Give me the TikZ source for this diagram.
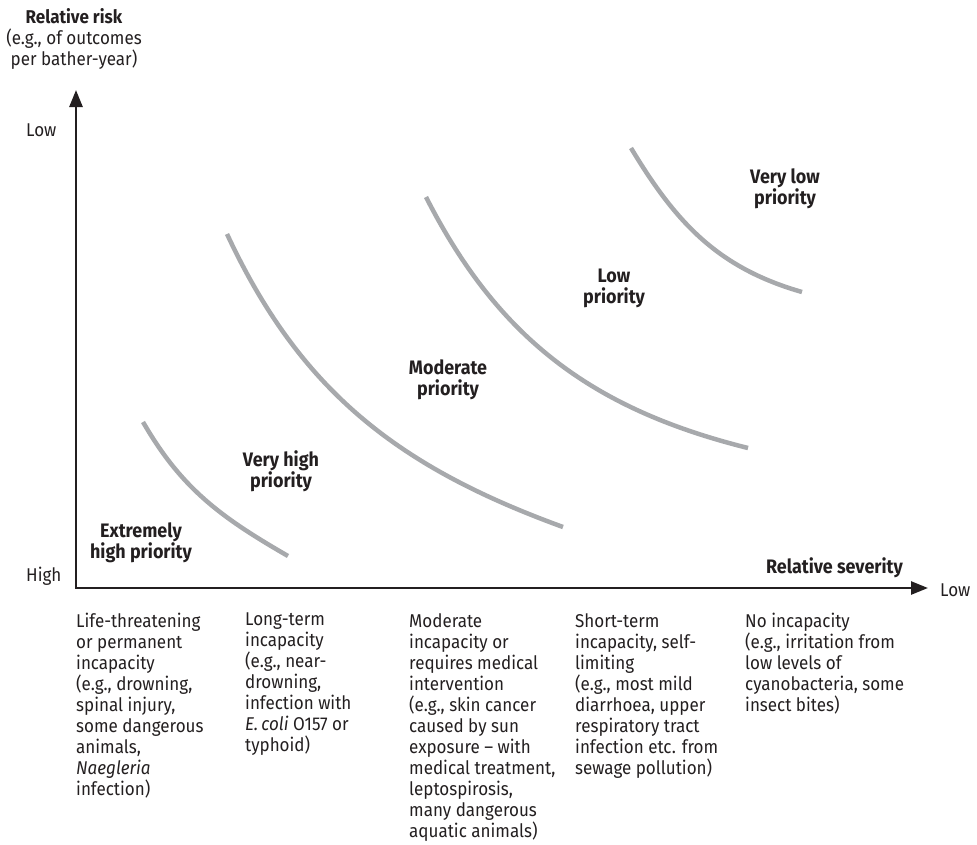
\documentclass[tikz,border=0pt]{standalone}
\usepackage{fontspec}
\setmainfont{Fira Sans}[FakeStretch=0.92]
\usepackage{xcolor}
\usetikzlibrary{arrows.meta,positioning}
\definecolor{ink}{HTML}{231F20}
\definecolor{bandgray}{HTML}{A7A9AC}

\begin{document}
\begin{tikzpicture}[
        x=1pt, y=1pt,
        every node/.style={text=ink, inner sep=0pt},
        txt/.style={font=\fontsize{18.5}{21}\selectfont},
        effect/.style={txt, align=left, anchor=north west},
        zone/.style={font=\fontsize{19.5}{21}\selectfont\bfseries, align=center},
        axis/.style={{Triangle[length=17pt,width=13pt]}-{Triangle[length=17pt,width=13pt]}, line width=2.6pt, draw=ink},
        band/.style={line width=4.5pt, draw=bandgray}
    ]
        \useasboundingbox (0,0) rectangle (977,-844);

        % axes
        \coordinate (origin) at (76,-588);
        \coordinate (ytip) at (76,-90);
        \coordinate (xtip) at (928,-588);
        \draw[axis] (ytip) -- (origin) -- (xtip);

        \node[txt, align=center, anchor=north] (ylabel) at (74,-8)
            {\textbf{Relative risk}\\(e.g., of outcomes\\per bather-year)};
        \node[txt, anchor=west] (ylow) at (26,-130) {Low};
        \node[txt, anchor=west] (yhigh) at (26,-576) {High};
        \node[txt, anchor=west] (xlow) at (940,-590) {Low};
        \node[zone, anchor=east] (xlabel) at (903,-568) {Relative severity};

        % priority bands
        \coordinate (b1s) at (143,-422); \coordinate (b1e) at (288,-556);
        \coordinate (b2s) at (227,-234); \coordinate (b2e) at (563,-527);
        \coordinate (b3s) at (426,-197); \coordinate (b3e) at (748,-448);
        \coordinate (b4s) at (631,-148); \coordinate (b4e) at (802,-292);
        \draw[band] (b1s) to[out=-60, in=150] (b1e);
        \draw[band] (b2s) to[out=-65, in=160] (b2e);
        \draw[band] (b3s) to[out=-63, in=166] (b3e);
        \draw[band] (b4s) to[out=-59, in=164] (b4e);

        \node[zone] (extreme) at (141,-543) {Extremely\\high priority};
        \node[zone] (veryhigh) at (281,-471) {Very high\\priority};
        \node[zone] (moderate) at (448,-380) {Moderate\\priority};
        \node[zone] (low) at (614,-288) {Low\\priority};
        \node[zone] (verylow) at (785,-189) {Very low\\priority};

        % severity classes
        \node[effect] (sev1) at (76,-613) {Life-threatening\\or permanent\\incapacity\\(e.g., drowning,\\spinal injury,\\some dangerous\\animals,\\\textit{Naegleria}\\infection)};
        \node[effect] (sev2) at (245,-613) {Long-term\\incapacity\\(e.g., near-\\drowning,\\infection with\\\textit{E.\,coli} O157 or\\typhoid)};
        \node[effect] (sev3) at (409,-613) {Moderate\\incapacity or\\requires medical\\intervention\\(e.g., skin cancer\\caused by sun\\exposure -- with\\medical treatment,\\leptospirosis,\\many dangerous\\aquatic animals)};
        \node[effect] (sev4) at (575,-613) {Short-term\\incapacity, self-\\limiting\\(e.g., most mild\\diarrhoea, upper\\respiratory tract\\infection etc. from\\sewage pollution)};
        \node[effect] (sev5) at (745,-613) {No incapacity\\(e.g., irritation from\\low levels of\\cyanobacteria, some\\insect bites)};
    \end{tikzpicture}
\end{document}
